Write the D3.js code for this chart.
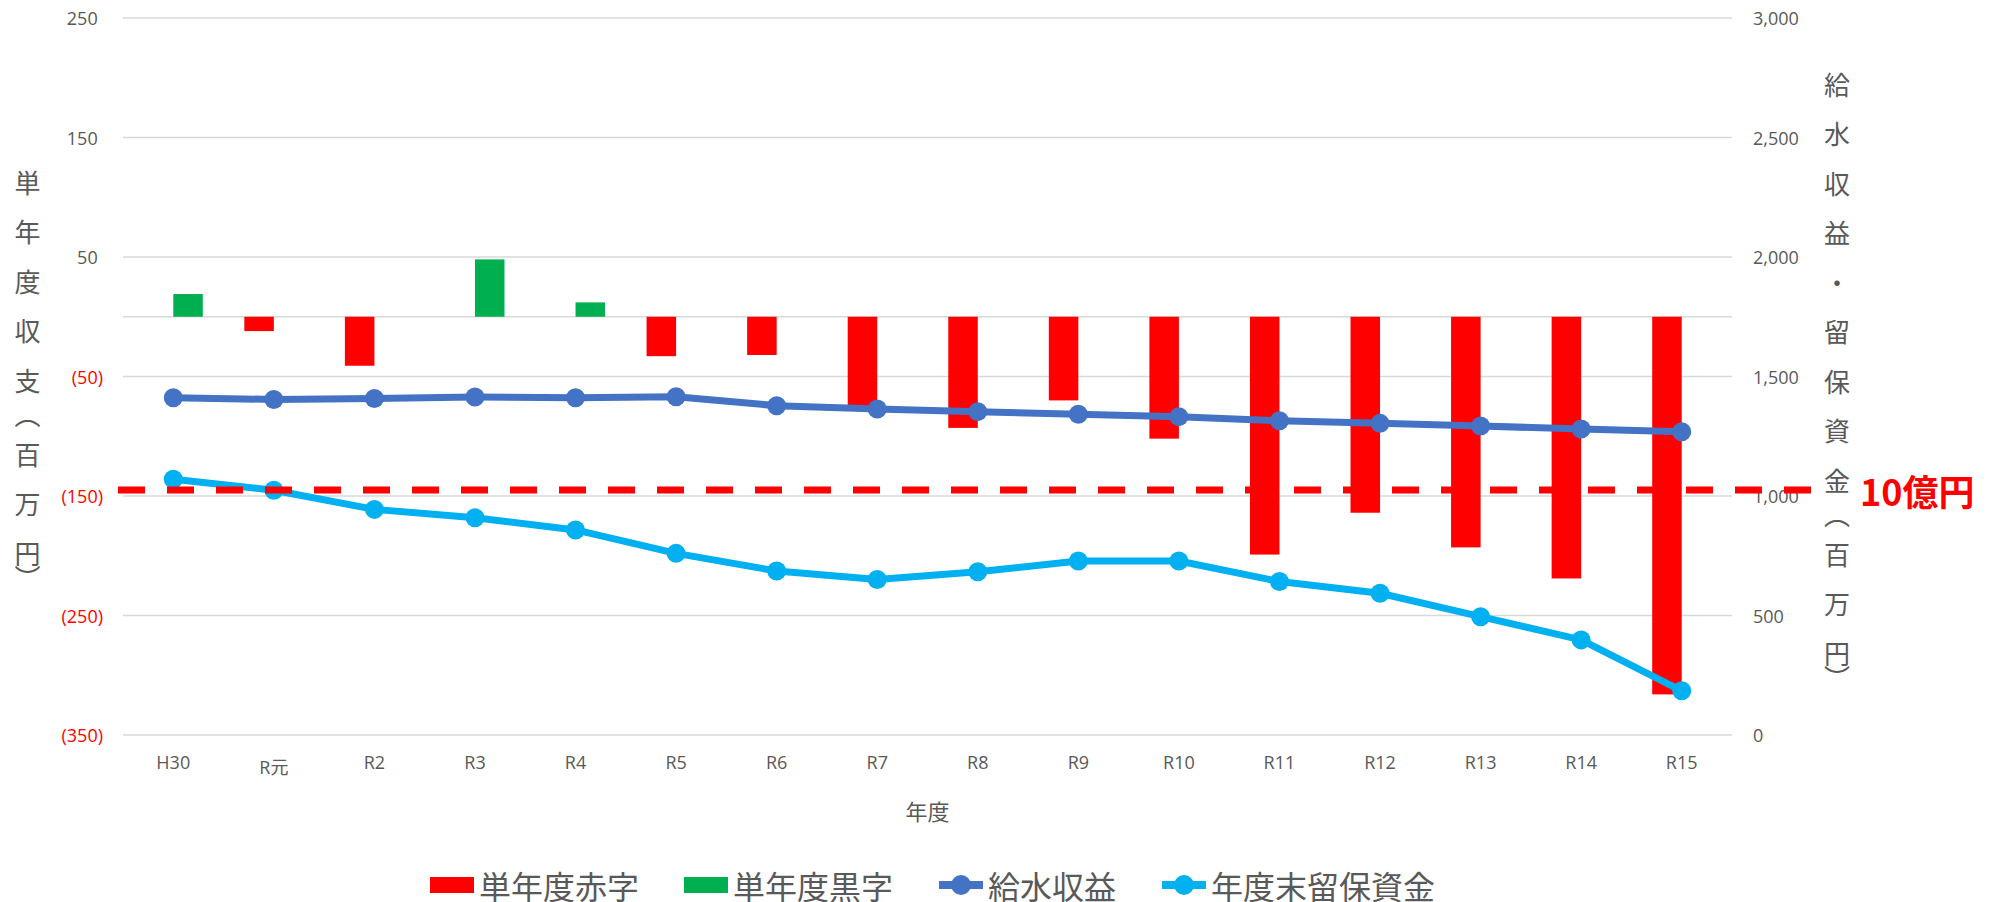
<!DOCTYPE html>
<html>
<head>
<meta charset="utf-8">
<script src="https://cdn.jsdelivr.net/npm/d3@7"></script>
<style>
  html, body { margin: 0; padding: 0; background: #fff; }
  svg { display: block; }
  text { font-family: 'Open Sans', 'Noto Sans CJK JP', sans-serif; fill: #595959; }
  .jp { font-family: 'Noto Sans CJK JP', sans-serif; }
</style>
</head>
<body>
<svg id="chart" width="1995" height="902"></svg>
<script>
// --- data (百万円) ---
const categories = ['H30', 'R元', 'R2', 'R3', 'R4', 'R5', 'R6', 'R7', 'R8', 'R9', 'R10', 'R11', 'R12', 'R13', 'R14', 'R15'];
const deficit = [null, -12, -41, null, null, -33, -32, -75, -93, -70, -102, -199, -164, -193, -219, -316];
const surplus = [19, null, null, 48, 12, null, null, null, null, null, null, null, null, null, null, null];
const revenue = [1411, 1404, 1408, 1414, 1411, 1415, 1378, 1364, 1353, 1342, 1332, 1315, 1304, 1293, 1280, 1269];
const reserves = [1070, 1024, 944, 909, 858, 760, 686, 651, 683, 728, 728, 642, 593, 495, 398, 185];
const leftTicks = [250, 150, 50, -50, -150, -250, -350];
const rightTicks = [0, 500, 1000, 1500, 2000, 2500, 3000];
const threshold = 1000;

const seriesNames = ['単年度赤字', '単年度黒字', '給水収益', '年度末留保資金'];
const colors = { deficit: '#FF0000', surplus: '#00B050', revenue: '#4472C4', reserves: '#00B0F0' };

const svg = d3.select('#chart');
const plot = { left: 123, right: 1732, top: 18, bottom: 735 };

const x = d3.scaleBand()
  .domain(categories)
  .range([plot.left, plot.right])
  .paddingInner(0.413)
  .paddingOuter(0.2065);

const xSub = d3.scaleBand()
  .domain(['deficit', 'surplus'])
  .range([0, x.bandwidth()]);

const yL = d3.scaleLinear().domain([-350, 250]).range([plot.bottom, plot.top]);
const yR = d3.scaleLinear().domain([0, 3000]).range([plot.bottom, plot.top]);
const cx = c => x(c) + x.bandwidth() / 2;

// gridlines
svg.append('g')
  .selectAll('line')
  .data(leftTicks.concat([0]))
  .join('line')
    .attr('x1', plot.left)
    .attr('x2', plot.right)
    .attr('y1', d => yL(d))
    .attr('y2', d => yL(d))
    .attr('stroke', '#D9D9D9')
    .attr('stroke-width', 1.4);

// left tick labels
const fmt = d3.format(',');
const leftLabels = svg.append('g')
  .selectAll('text')
  .data(leftTicks)
  .join('text')
    .attr('x', 103)
    .attr('y', d => yL(d))
    .attr('text-anchor', 'end')
    .attr('dominant-baseline', 'central')
    .attr('font-size', 18)
    .style('fill', d => (d < 0 ? '#FF0000' : '#595959'));
leftLabels.each(function (d) {
  const t = d3.select(this);
  if (d < 0) {
    t.text(`(${fmt(-d)})`);
  } else {
    t.append('tspan').text(fmt(d));
    t.append('tspan').attr('fill-opacity', 0).text(')');
  }
});

// right tick labels
svg.append('g')
  .selectAll('text')
  .data(rightTicks)
  .join('text')
    .attr('x', 1753)
    .attr('y', d => yR(d))
    .attr('dominant-baseline', 'central')
    .attr('font-size', 18)
    .text(d => fmt(d));

// category labels
svg.append('g')
  .selectAll('text')
  .data(categories)
  .join('text')
    .attr('x', d => cx(d))
    .attr('y', 769)
    .attr('dy', d => (/[^\x00-\x7F]/.test(d) ? 5 : 0))
    .attr('text-anchor', 'middle')
    .attr('font-size', 18)
    .text(d => d);

svg.append('text')
  .attr('class', 'jp')
  .attr('x', (plot.left + plot.right) / 2)
  .attr('y', 810)
  .attr('text-anchor', 'middle')
  .attr('dominant-baseline', 'central')
  .attr('font-size', 22)
  .text('年度');

// vertical stacked axis titles
const stackTitle = (str, xPos, yStart, step) => {
  const g = svg.append('g');
  let y = yStart;
  let prev = null;
  [...str].forEach((ch, i) => {
    let glyph = ch;
    if (i > 0) {
      if (ch === '（') y += 34;
      else if (ch === '）') y += 24;
      else if (prev === '（') y += 40;
      else y += step;
    }
    if (ch === '（') glyph = '︵';
    if (ch === '）') glyph = '︶';
    g.append('text')
      .attr('class', 'jp')
      .attr('x', xPos)
      .attr('y', y)
      .attr('text-anchor', 'middle')
      .attr('dominant-baseline', 'central')
      .attr('font-size', 26)
      .text(glyph);
    prev = ch;
  });
};
stackTitle('単年度収支（百万円）', 27.5, 181, 49.5);
stackTitle('給水収益・留保資金（百万円）', 1837, 83, 49.5);

// bars
const bars = svg.append('g');
bars.selectAll('.deficit')
  .data(categories.map((c, i) => ({ c, v: deficit[i] })).filter(d => d.v != null))
  .join('rect')
    .attr('class', 'deficit')
    .attr('x', d => x(d.c) + xSub('deficit'))
    .attr('width', xSub.bandwidth())
    .attr('y', d => Math.min(yL(0), yL(d.v)))
    .attr('height', d => Math.abs(yL(d.v) - yL(0)))
    .attr('fill', colors.deficit);
bars.selectAll('.surplus')
  .data(categories.map((c, i) => ({ c, v: surplus[i] })).filter(d => d.v != null))
  .join('rect')
    .attr('class', 'surplus')
    .attr('x', d => x(d.c) + xSub('surplus'))
    .attr('width', xSub.bandwidth())
    .attr('y', d => Math.min(yL(0), yL(d.v)))
    .attr('height', d => Math.abs(yL(d.v) - yL(0)))
    .attr('fill', colors.surplus);

// lines
const drawLine = (values, color) => {
  const pts = categories.map((c, i) => [cx(c), yR(values[i])]);
  svg.append('path')
    .attr('d', d3.line()(pts))
    .attr('fill', 'none')
    .attr('stroke', color)
    .attr('stroke-width', 7)
    .attr('stroke-linejoin', 'round');
  svg.append('g')
    .selectAll('circle')
    .data(pts)
    .join('circle')
      .attr('cx', d => d[0])
      .attr('cy', d => d[1])
      .attr('r', 9.5)
      .attr('fill', color);
};
drawLine(revenue, colors.revenue);
drawLine(reserves, colors.reserves);

// 10億円 threshold (hand-drawn shape in original, sits a little above the gridline)
const yThr = yR(threshold) - 6;
svg.append('line')
  .attr('x1', plot.left - 5)
  .attr('x2', plot.right + 83)
  .attr('y1', yThr)
  .attr('y2', yThr)
  .attr('stroke', '#FF0000')
  .attr('stroke-width', 7)
  .attr('stroke-dasharray', '27 22');
svg.append('text')
  .attr('class', 'jp')
  .attr('x', 1860)
  .attr('y', yThr)
  .attr('dominant-baseline', 'central')
  .attr('font-size', 36)
  .attr('font-weight', 'bold')
  .style('fill', '#FF0000')
  .text('10億円');

// legend
const legendY = 885;
const legendItems = [
  { name: seriesNames[0], color: colors.deficit, type: 'rect', x: 430 },
  { name: seriesNames[1], color: colors.surplus, type: 'rect', x: 684 },
  { name: seriesNames[2], color: colors.revenue, type: 'line', x: 939 },
  { name: seriesNames[3], color: colors.reserves, type: 'line', x: 1162 },
];
const legend = svg.append('g')
  .selectAll('g')
  .data(legendItems)
  .join('g')
    .attr('transform', d => `translate(${d.x}, ${legendY})`);
legend.filter(d => d.type === 'rect')
  .append('rect')
    .attr('x', 0)
    .attr('y', -8)
    .attr('width', 44)
    .attr('height', 16)
    .attr('fill', d => d.color);
legend.filter(d => d.type === 'line')
  .append('line')
    .attr('x1', 0)
    .attr('x2', 44)
    .attr('stroke', d => d.color)
    .attr('stroke-width', 8);
legend.filter(d => d.type === 'line')
  .append('circle')
    .attr('cx', 22)
    .attr('r', 10)
    .attr('fill', d => d.color);
legend.append('text')
  .attr('class', 'jp')
  .attr('x', 49)
  .attr('dominant-baseline', 'central')
  .attr('font-size', 32)
  .text(d => d.name);
</script>
</body>
</html>
